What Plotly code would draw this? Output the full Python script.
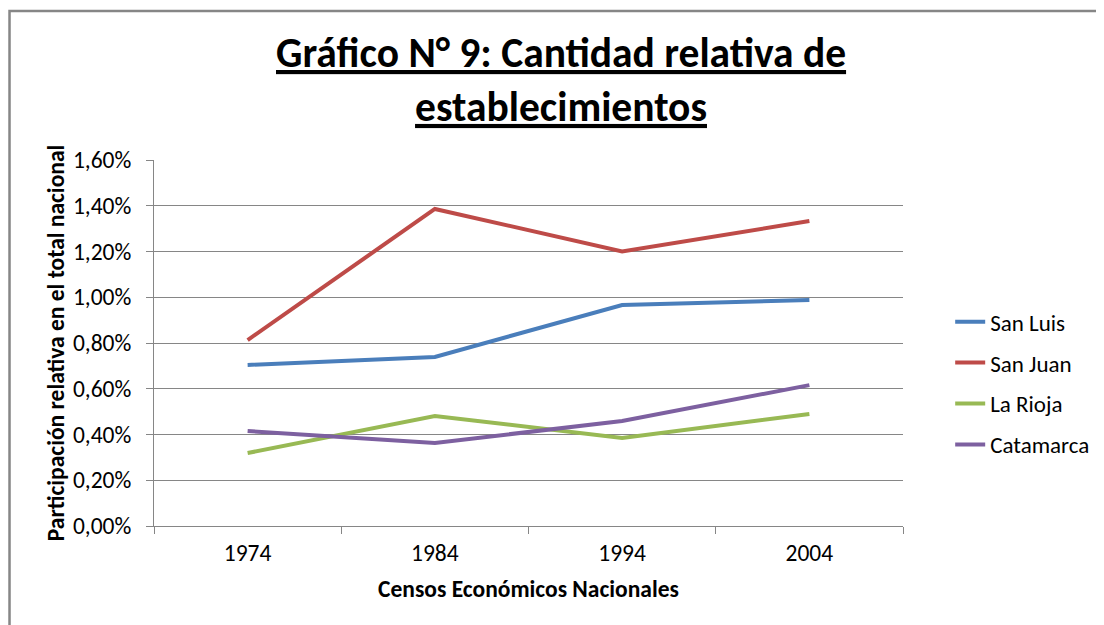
import plotly.graph_objects as go

# Datos (participación relativa, fracción del total nacional)
censos = ["1974", "1984", "1994", "2004"]
san_luis = [0.00704, 0.00739, 0.00966, 0.00988]
san_juan = [0.00813, 0.01386, 0.01200, 0.01333]
la_rioja = [0.00319, 0.00481, 0.00385, 0.00490]
catamarca = [0.00415, 0.00363, 0.00459, 0.00616]

series = [
    ("San Luis", san_luis, "#4A7EBB"),
    ("San Juan", san_juan, "#BE4B48"),
    ("La Rioja", la_rioja, "#98B954"),
    ("Catamarca", catamarca, "#7D60A0"),
]

FONT = "Carlito, Calibri, Open Sans, sans-serif"
GRID = "#868686"

fig = go.Figure()
for i, (name, vals, color) in enumerate(series):
    fig.add_trace(go.Scatter(
        x=censos, y=vals, name=name, mode="lines",
        line=dict(color=color, width=4),
        legendgroup=str(i),
    ))

# la página deja 8px de margen en el body: se compensa en los márgenes
fig.update_layout(
    width=1104, height=625,
    margin=dict(l=146, r=209, t=152, b=107),
    paper_bgcolor="white", plot_bgcolor="white",
    separators=",.",
    font=dict(family=FONT, size=23, color="#000000"),
    showlegend=True,
    legend=dict(
        x=1.063, y=0.39, xanchor="left", yanchor="middle",
        traceorder="grouped", tracegroupgap=8,
        font=dict(size=23, color="#000000"),
    ),
    annotations=[dict(
        text="<b><u>Gráfico N° 9: Cantidad relativa de</u></b><br><b><u>establecimientos</u></b>",
        xref="paper", yref="paper", x=0.544, y=1.219, yanchor="middle",
        showarrow=False, font=dict(size=41.5, family=FONT),
    )],
    shapes=[dict(
        type="rect", xref="paper", yref="paper",
        x0=-0.1929, x1=1.4, y0=-0.5, y1=1.407,
        line=dict(color=GRID, width=2.5), layer="below",
    )],
)

fig.update_xaxes(
    type="category", range=[-0.5, 3.5], showgrid=False,
    showline=True, linecolor=GRID, linewidth=1,
    ticks="outside", tickson="boundaries", ticklen=7, tickcolor=GRID,
    tickfont=dict(size=23.5), ticklabelstandoff=6,
    title=dict(text="<b>Censos Económicos Nacionales</b>", font=dict(size=23.5), standoff=14),
)
fig.update_yaxes(
    range=[0, 0.016], dtick=0.002, tickformat=".2%",
    showgrid=True, gridcolor=GRID, gridwidth=1,
    showline=True, linecolor=GRID, linewidth=1,
    ticks="outside", ticklen=7, tickcolor=GRID,
    tickfont=dict(size=23.5), ticklabelstandoff=10, zeroline=False,
    title=dict(text="<b>Participación relativa en el total nacional</b>", font=dict(size=23.5), standoff=1),
)

fig.write_html("out.html")
